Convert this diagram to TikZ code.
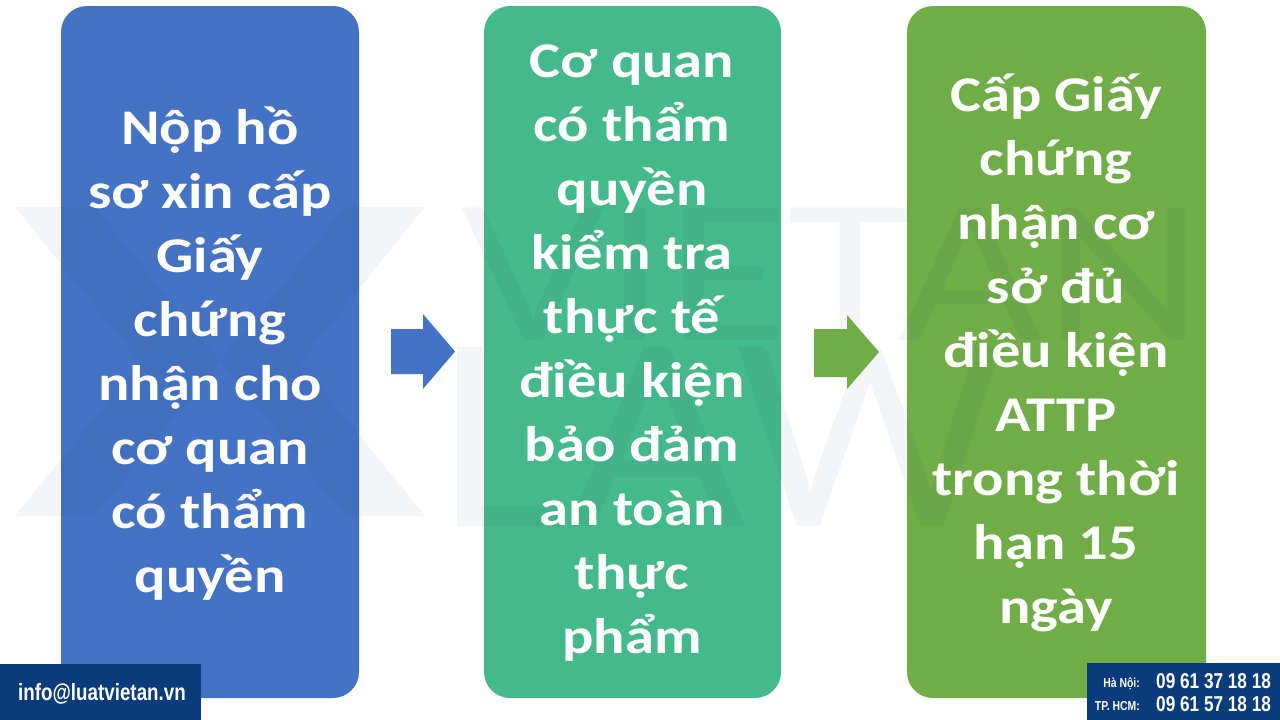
\documentclass[tikz,border=0pt]{standalone}
\usepackage{fontspec}
\setmainfont{Carlito}[FakeStretch=1.17]
\newfontfamily\condfont[FakeStretch=0.8]{Liberation Sans}
\newfontfamily\wmfont{Lato}
\usetikzlibrary{calc}
\definecolor{cblue}{HTML}{4472C4}
\definecolor{cteal}{HTML}{44B98B}
\definecolor{clime}{HTML}{70AD47}
\definecolor{cnavy}{HTML}{0A3B7C}
\definecolor{wm}{HTML}{1F3F6F}
\tikzset{
  stepbox/.style={rounded corners=26pt, draw=none},
  steptext/.style={text=white, align=center, font=\bfseries\fontsize{50}{64}\selectfont, inner sep=0pt},
  bigarrow/.style={draw=none},
  footbox/.style={fill=cnavy, draw=none},
  wmark/.style={fill=wm, fill opacity=0.05, draw=none},
  wmtext/.style={text=wm, text opacity=0.05, inner sep=0pt, anchor=base},
}
\begin{document}
\begin{tikzpicture}[x=1pt,y=-1pt]
\useasboundingbox (0,0) rectangle (1280,720);
\fill[white] (0,0) rectangle (1280,720);

% step boxes
\fill[stepbox, fill=cblue] (61,6) rectangle (359,698);
\fill[stepbox, fill=cteal] (484,6) rectangle (781,698);
\fill[stepbox, fill=clime] (907,6) rectangle (1206,698);

% watermark
\fill[wmark] (15,207) -- (95,207) -- (220,362) -- (345,207) -- (425,207) -- (300,362) -- (425,516) -- (345,516) -- (220,362) -- (95,516) -- (15,516) -- (140,362) -- cycle;
\node[wmtext, font=\wmfont\fontsize{185}{185}\selectfont, xscale=1.15] (wm1) at (833,340) {VIETAN};
\node[wmtext, font=\wmfont\fontsize{250}{250}\selectfont, xscale=1.05] (wm2) at (720,526) {LAW};

\node[steptext] (s1) at (210,354) {Nộp hồ\\sơ xin cấp\\Giấy\\chứng\\nhận cho\\cơ quan\\có thẩm\\quyền};
\node[steptext] (s2) at (632,353) {Cơ quan\\có thẩm\\quyền\\kiểm tra\\thực tế\\điều kiện\\bảo đảm\\an toàn\\thực\\phẩm};
\node[steptext] (s3) at (1056,353) {Cấp Giấy\\chứng\\nhận cơ\\sở đủ\\điều kiện\\ATTP\\trong thời\\hạn 15\\ngày};

% arrows
\fill[bigarrow, fill=cblue] (391,329) -- (423,329) -- (423,314) -- (455,351.5) -- (423,389) -- (423,374) -- (391,374) -- cycle;
\fill[bigarrow, fill=clime] (814,329) -- (847,329) -- (847,315) -- (879,352) -- (847,389) -- (847,377) -- (814,377) -- cycle;

% footer
\fill[footbox] (0,664) rectangle (201,720);
\node[text=white, font=\condfont\bfseries\fontsize{23.5}{23.5}\selectfont, inner sep=0pt, anchor=base] (mail) at (102,700) {info@luatvietan.vn};
\fill[footbox] (1087,663) rectangle (1280,720);
\node[text=white, font=\condfont\bfseries\fontsize{13}{13}\selectfont, inner sep=0pt, anchor=base east] (hn) at (1140,687) {Hà Nội:};
\node[text=white, font=\condfont\bfseries\fontsize{13}{13}\selectfont, inner sep=0pt, anchor=base east] (hcm) at (1140,710) {TP. HCM:};
\node[text=white, font=\condfont\bfseries\fontsize{21.5}{21.5}\selectfont, inner sep=0pt, anchor=base west] (n1) at (1156,688) {09 61 37 18 18};
\node[text=white, font=\condfont\bfseries\fontsize{21.5}{21.5}\selectfont, inner sep=0pt, anchor=base west] (n2) at (1156,711) {09 61 57 18 18};
\end{tikzpicture}
\end{document}
